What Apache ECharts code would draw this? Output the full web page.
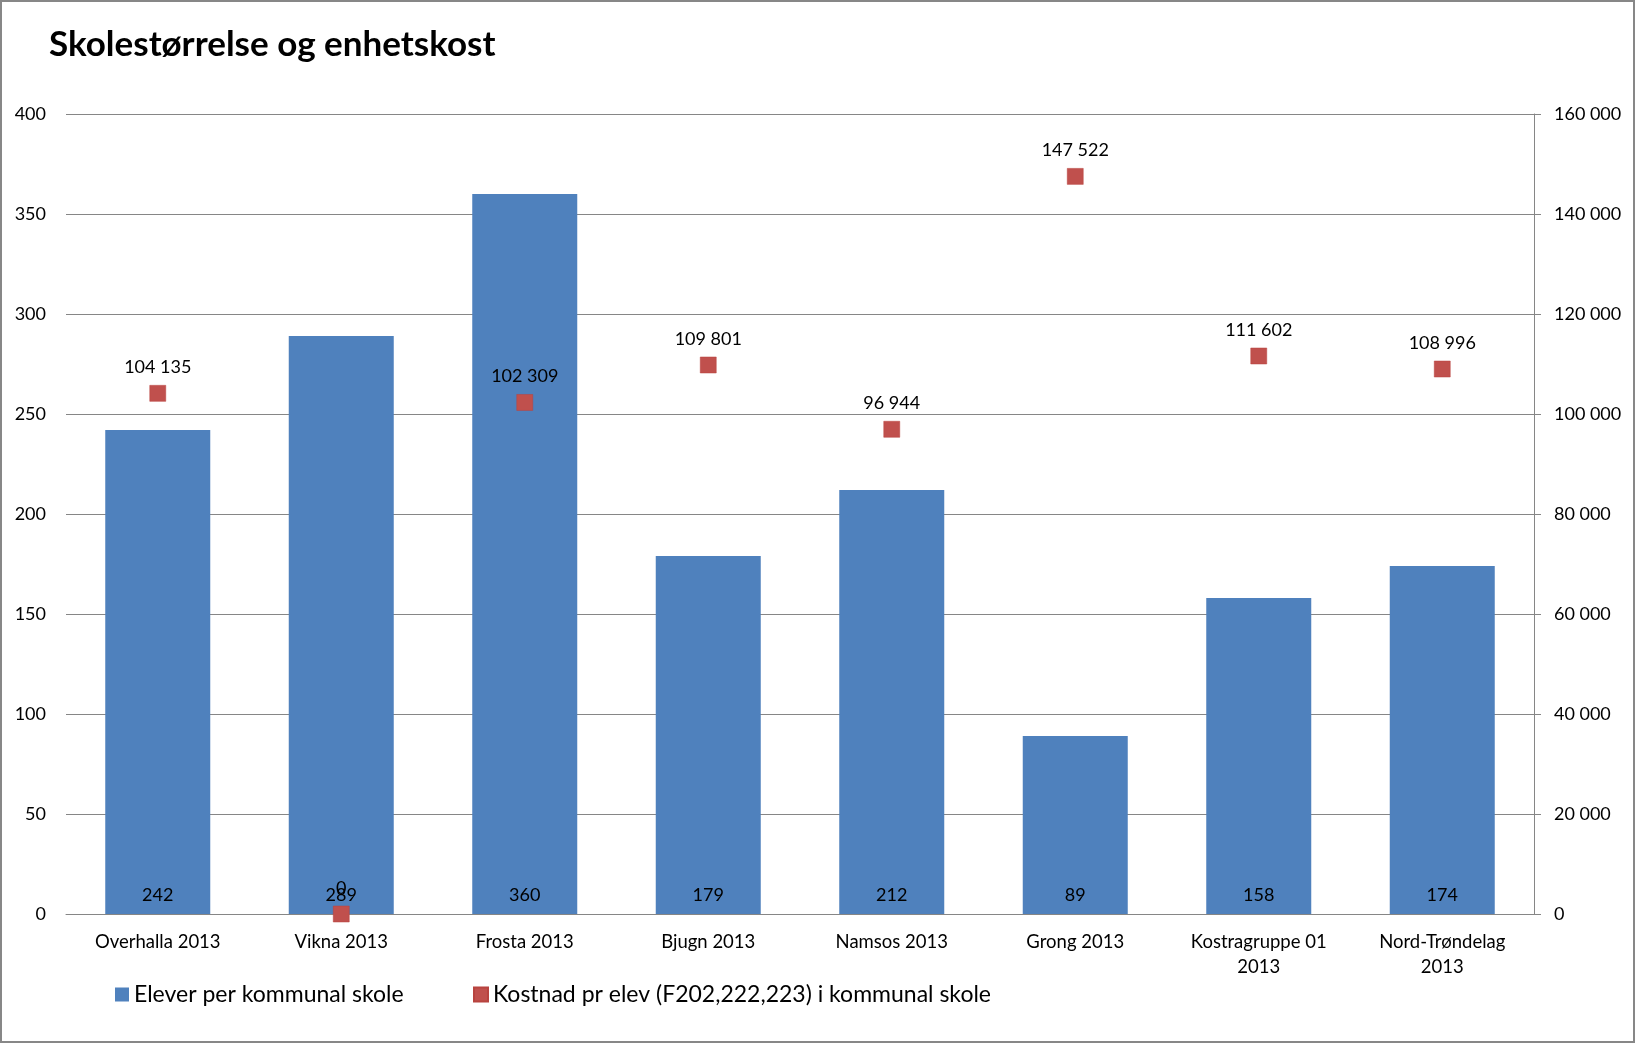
<!DOCTYPE html>
<html>
<head>
<meta charset="utf-8">
<script src="https://cdn.jsdelivr.net/npm/echarts@6/dist/echarts.min.js"></script>
<style>
html,body{margin:0;padding:0;background:#fff;}
#chart{width:1635px;height:1043px;}
</style>
</head>
<body>
<div id="chart"></div>
<script>
const titleText = 'Skolestørrelse og enhetskost';
const categories = ['Overhalla 2013','Vikna 2013','Frosta 2013','Bjugn 2013','Namsos 2013','Grong 2013','Kostragruppe 01 2013','Nord-Trøndelag 2013'];
const barName = 'Elever per kommunal skole';
const scatterName = 'Kostnad pr elev (F202,222,223) i kommunal skole';
const barValues = [242, 289, 360, 179, 212, 89, 158, 174];
const scatterValues = [104135, 0, 102309, 109801, 96944, 147522, 111602, 108996];
const leftTicks = [0, 50, 100, 150, 200, 250, 300, 350, 400];
const rightTicks = [0, 20000, 40000, 60000, 80000, 100000, 120000, 140000, 160000];

const FONT = 'Lato';
const fmt = v => String(v).replace(/\B(?=(\d{3})+(?!\d))/g, ' ');

const chart = echarts.init(document.getElementById('chart'));
chart.setOption({
  animation: false,
  backgroundColor: '#fff',
  textStyle: { fontFamily: FONT, color: '#000' },
  title: {
    text: titleText,
    left: 44, top: 22,
    textStyle: { fontFamily: FONT, fontSize: 35, fontWeight: 'bold', color: '#000' }
  },
  graphic: [{
    type: 'rect', silent: true,
    shape: { x: 1, y: 1, width: 1633, height: 1041 },
    style: { fill: 'none', stroke: '#878787', lineWidth: 2 }
  }],
  legend: [{
    data: [barName], left: 110, top: 978,
    icon: 'rect', itemWidth: 14, itemHeight: 14, itemGap: 6,
    itemStyle: { opacity: 1 },
    textStyle: { fontFamily: FONT, fontSize: 23, color: '#000' }
  }, {
    data: [scatterName], left: 468, top: 978,
    icon: 'rect', itemWidth: 14, itemHeight: 14, itemGap: 6,
    itemStyle: { opacity: 1 },
    textStyle: { fontFamily: FONT, fontSize: 23, color: '#000' }
  }],
  grid: { left: 66, right: 101, top: 114, bottom: 129, containLabel: false },
  xAxis: {
    type: 'category', data: categories,
    axisLine: { show: true, lineStyle: { color: '#868686', width: 1 } },
    axisTick: { show: false },
    axisLabel: {
      fontFamily: FONT, fontSize: 18.5, color: '#000', margin: 16, lineHeight: 25,
      interval: 0,
      formatter: v => v.length > 15 ? v.replace(/ (\S+)$/, '\n$1') : v
    }
  },
  yAxis: [{
    type: 'value', min: leftTicks[0], max: leftTicks[leftTicks.length - 1], interval: 50,
    position: 'left',
    axisLine: { show: false }, axisTick: { show: false },
    splitLine: { show: true, lineStyle: { color: '#868686', width: 1 } },
    axisLabel: { fontFamily: FONT, fontSize: 18, color: '#000', margin: 20 }
  }, {
    type: 'value', min: rightTicks[0], max: rightTicks[rightTicks.length - 1], interval: 20000,
    position: 'right',
    axisLine: { show: true, lineStyle: { color: '#868686', width: 1 } },
    axisTick: { show: true, inside: false, length: 7, lineStyle: { color: '#868686' } },
    splitLine: { show: false },
    axisLabel: { fontFamily: FONT, fontSize: 18, color: '#000', margin: 20, formatter: v => fmt(v) }
  }],
  series: [{
    name: barName, type: 'bar', data: barValues, yAxisIndex: 0,
    barWidth: 105,
    itemStyle: { color: '#4F81BD', opacity: 1 },
    label: { show: true, position: 'insideBottom', distance: 10, fontFamily: FONT, fontSize: 18, color: '#000' },
    z: 2
  }, {
    name: scatterName, type: 'scatter', data: scatterValues, yAxisIndex: 1,
    symbol: 'rect', symbolSize: 16,
    itemStyle: { color: '#C0504D', opacity: 1, borderColor: '#B8433F', borderWidth: 0.5 },
    label: { show: true, position: 'top', distance: 9, fontFamily: FONT, fontSize: 18, color: '#000', formatter: p => fmt(p.value) },
    z: 5
  }]
});
</script>
</body>
</html>
